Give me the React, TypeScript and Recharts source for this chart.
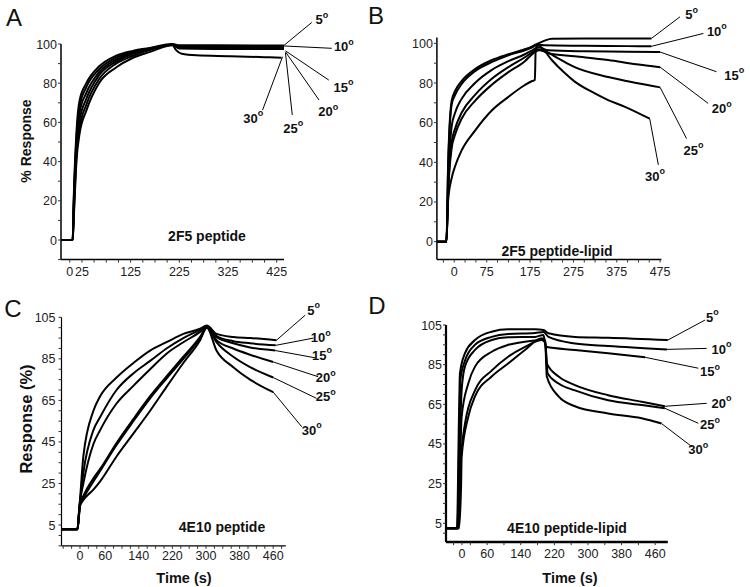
import React from 'react';
import { LineChart, Line, XAxis, YAxis, ReferenceLine, ReferenceDot } from 'recharts';

type Pt = [number, number];
type Seg = [number, number, number, number];

const DEG = ['5', '10', '15', '20', '25', '30'];
const FONT = '"Liberation Sans", Arial, Helvetica, sans-serif';

// ---------- Panel A : 2F5 peptide ----------
const A5: Pt[] = [[-18,0],[6,0],[8,20],[14,56],[20,71],[34,80],[60,88.5],[95,94],[130,96.5],[165,98],[211,100],[225,99.3],[300,99.3],[440,99.2]];
const A10: Pt[] = [[-18,0],[6,0],[8,18],[14,53],[20,68],[34,78],[60,87],[95,93],[130,96],[165,97.8],[211,99.8],[225,98.9],[300,98.8],[440,98.7]];
const A15: Pt[] = [[-18,0],[6,0],[8,16],[14,50],[20,65],[34,75],[60,85.5],[95,92],[130,95.5],[165,97.5],[211,99.7],[225,98.5],[300,98.3],[440,98.2]];
const A20: Pt[] = [[-18,0],[6,0],[8,14],[14,47],[20,61],[34,72],[60,84],[95,91],[130,95],[165,97.2],[211,99.6],[225,98.1],[300,97.9],[440,97.8]];
const A25: Pt[] = [[-18,0],[6,0],[8,12],[14,44],[20,57],[34,69],[60,82],[95,90],[130,94],[165,97],[211,99.5],[225,97.7],[300,97.5],[440,97.4]];
const A30: Pt[] = [[-18,0],[6,0],[8,10],[14,41],[20,54],[34,66],[60,80],[95,88],[130,93],[165,96],[211,99.4],[218,97],[230,95],[260,94.2],[330,93.8],[400,93.3],[435,93]];
const A_XMAJOR = [0, 25, 125, 225, 325, 425];
const A_YMAJOR = [0, 20, 40, 60, 80, 100];
const A_LEADERS: Seg[] = [[440,99.3,497,111],[440,99,538,97.8],[443,96.5,532,81.6],[443,96,512,71.4],[443,95.5,457,63.8],[437,93.5,396,66.3]];
const A_LABELS: Pt[] = [[518,112.5],[563,98.6],[562,78],[531,65.5],[459,57],[377,62]];

// ---------- Panel B : 2F5 peptide-lipid ----------
const B5: Pt[] = [[-40,0],[-18,0],[-14,40],[-6,71],[2,76],[17,81],[48,87],[86,91.5],[125,94.5],[163,97],[180,98.5],[194,100],[210,101.5],[225,102.3],[300,102.5],[400,102.5],[455,102.5]];
const B10: Pt[] = [[-40,0],[-18,0],[-14,38],[-6,69],[2,74],[17,79.5],[48,86],[86,90.5],[125,94],[163,96.5],[180,98],[194,99.3],[210,99],[300,98.8],[400,98.6],[455,98.5]];
const B15: Pt[] = [[-40,0],[-18,0],[-14,30],[-6,58],[2,65],[17,72],[48,80],[86,86.5],[125,91],[163,94.5],[180,96.5],[194,98],[217,96.5],[300,96],[400,95.8],[475,95.6]];
const B20: Pt[] = [[-40,0],[-18,0],[-14,26],[-6,50],[2,57],[17,65],[48,74],[86,82],[125,88],[163,93],[180,95.5],[194,97],[217,95],[278,93.5],[355,91.6],[420,89.5],[475,88]];
const B25: Pt[] = [[-40,0],[-18,0],[-14,25],[-6,47],[2,54],[17,62],[48,71],[86,79],[125,85.5],[163,91],[180,94.5],[195,96.5],[209,96],[240,92.4],[278,88],[355,83],[420,80],[475,77.8]];
const B30: Pt[] = [[-40,0],[-18,0],[-16,10],[-14,21],[-6,32],[2,38],[17,46],[48,56],[86,66],[125,73],[163,79],[180,81],[186,81.5],[188,97],[194,99],[201,98],[225,91.6],[255,85],[278,80.7],[317,75.6],[355,71.4],[394,68],[451,62]];
const B_XMAJOR = [0, 75, 175, 275, 375, 475];
const B_YMAJOR = [0, 20, 40, 60, 80, 100];
const B_LEADERS: Seg[] = [[455,102.5,521,113.4],[455,98.5,575,105],[475,95.6,605,85.7],[475,88,586,69.7],[475,77.8,536,52],[451,62,471,38.7]];
const B_LABELS: Pt[] = [[548,114.5],[606,106],[646,84],[617,67],[552,46],[463,33]];

// ---------- Panel C : 4E10 peptide ----------
const C5: Pt[] = [[-44,3],[-6,3],[-2,12],[0,17],[8,38],[32,60],[48,67],[87,76],[127,83],[167,89],[206,93],[246,97],[286,99.5],[302,101],[325,97],[365,95.5],[405,95],[468,94]];
const C10: Pt[] = [[-44,3],[-6,3],[-2,12],[0,16],[8,30],[32,50.7],[48,57],[87,70],[127,78],[167,84],[206,90],[246,95],[286,99],[302,100.8],[325,96],[365,93.5],[405,92.5],[466,91.5]];
const C15: Pt[] = [[-44,3],[-6,3],[-2,12],[0,16],[8,25],[32,44],[48,50.7],[87,63.5],[127,72],[167,80],[206,87.5],[246,93],[286,98],[302,100.6],[325,95.5],[365,92.5],[405,90.5],[465,89]];
const C20: Pt[] = [[-44,3],[-6,3],[-2,11],[0,15],[8,19],[32,27.5],[48,32],[87,44.5],[127,56],[167,67],[206,76.5],[246,86],[286,95.6],[302,100.4],[325,94],[365,90],[405,87],[460,83.5]];
const C25: Pt[] = [[-44,3],[-6,3],[-2,11],[0,15],[8,18],[32,26],[48,31],[87,43.5],[127,55],[167,66],[206,75.5],[246,85],[286,95],[302,100.3],[325,93],[365,86],[405,81],[460,76]];
const C30: Pt[] = [[-44,3],[-6,3],[-2,10],[0,14],[8,17],[32,22],[48,26],[87,38],[127,49],[167,60],[206,71.5],[246,83],[286,94],[302,100],[325,89],[365,81],[405,75],[460,69]];
const C_XMAJOR = [0, 60, 140, 220, 300, 380, 460];
const C_YMAJOR = [5, 25, 45, 65, 85, 105];
const C_LEADERS: Seg[] = [[468,94,536,106],[466,91.5,556,95],[465,89,560,85.5],[460,83.5,567,76.4],[460,76,563,66],[460,69,528,52.3]];
const C_LABELS: Pt[] = [[556,108.4],[573,95.2],[576,86.8],[585,76],[585,66.7],[552,50.7]];

// ---------- Panel D : 4E10 peptide-lipid ----------
const D5: Pt[] = [[-38,2.5],[-12,2.5],[-7,60],[-4.8,80.6],[7,90.7],[31,97.4],[70.6,101.6],[110,102.8],[174,102.8],[194,102.5],[206,100.8],[269,99],[348,98.6],[490,97.4]];
const D10: Pt[] = [[-38,2.5],[-11,2.5],[-6,55],[-4,77],[7,87],[31,95],[70.6,99],[110,100.5],[174,101],[194,101.5],[206,99],[269,95.7],[348,94.4],[488,92.7]];
const D15: Pt[] = [[-38,2.5],[-10,2.5],[-4,55],[-0.8,72],[7,84],[31,92.4],[70.6,97.4],[110,98.8],[174,99],[194,100],[200,94],[269,92.4],[348,90.7],[436,88.7]];
const D20: Pt[] = [[-38,2.5],[-9,2.5],[-4,40],[-0.8,58.7],[15,75.5],[31,84],[70.6,91.5],[110,95],[150,96.6],[190,97.4],[198,96],[202,85.6],[230,79],[269,74.7],[348,69.6],[428,66.3],[483,64]];
const D25: Pt[] = [[-38,2.5],[-8,2.5],[-3,35],[7,55],[31,72],[70.6,82],[110,89],[150,94],[190,97.4],[198,97],[204,80.6],[230,75.5],[269,72],[348,67],[428,64.6],[483,63]];
const D30: Pt[] = [[-38,2.5],[-7,2.5],[-2,25],[-0.8,38.5],[15,58.7],[31,69],[70.6,79],[110,85.6],[150,92.4],[190,98.3],[198,97],[202,79],[230,69],[269,64],[348,60.4],[428,58],[475,55.3]];
const D_XMAJOR = [0, 60, 140, 220, 300, 380, 460];
const D_YMAJOR = [5, 25, 45, 65, 85, 105];
const D_LEADERS: Seg[] = [[490,97.4,578.6,107.5],[488,92.7,582.5,93.2],[436,88.7,562.7,83.2],[483,64,582.5,65.5],[483,63,562.7,55.4],[475,55.3,547,43.7]];
const D_LABELS: Pt[] = [[596,109],[618,92.7],[590.5,81.5],[618,65.5],[590.5,54.6],[562.7,42]];

const range = (a: number, b: number, s: number) => {
  const out: number[] = [];
  for (let v = a; v <= b + 1e-9; v += s) out.push(Math.round(v * 100) / 100);
  return out;
};
const uniq = (xs: number[]) => Array.from(new Set(xs)).sort((p, q) => p - q);

const toRows = (pts: Pt[]) => pts.map(([t, v]) => ({ t, v }));

type Cfg = {
  left: number; top: number; height: number;
  margin: { top: number; right: number; bottom: number; left: number };
  series: Pt[][];
  xDomain: [number, number]; yDomain: [number, number];
  xMajor: number[]; xMinor: number[]; yMajor: number[]; yMinor: number[];
  xTickMargin: number; yTickMargin: number; axisW: number; xAxisW: number;
  leaders: Seg[]; labels: Pt[];
};

const makeTick = (majors: number[], horizontal: boolean) => (props: any) => {
  const { x, y, payload } = props;
  if (!majors.includes(payload.value)) return <g />;
  return (
    <text
      x={x}
      y={y}
      dy={horizontal ? '0.71em' : '0.36em'}
      textAnchor={horizontal ? 'middle' : 'end'}
      fontFamily={FONT}
      fontSize={12.5}
      fill="#222"
    >
      {payload.value}
    </text>
  );
};

const DegText = ({ cx, cy, n }: { cx: number; cy: number; n: string }) => (
  <text x={cx} y={cy} textAnchor="middle" dominantBaseline="central" fontFamily={FONT} fontWeight="bold" fontSize={13} fill="#111">
    {n}
    <tspan fontSize={9} dy={-5}>o</tspan>
  </text>
);

function Panel({ cfg }: { cfg: Cfg }) {
  return (
    <div style={{ position: 'absolute', left: cfg.left, top: cfg.top }}>
      <LineChart width={375} height={cfg.height} margin={cfg.margin}>
        <XAxis
          type="number"
          dataKey="t"
          domain={cfg.xDomain}
          ticks={uniq([...cfg.xMajor, ...cfg.xMinor])}
          interval={0}
          tick={makeTick(cfg.xMajor, true)}
          tickSize={3}
          tickMargin={cfg.xTickMargin}
          axisLine={{ stroke: '#000', strokeWidth: cfg.xAxisW }}
          tickLine={{ stroke: '#333', strokeWidth: 1 }}
          height={30}
        />
        <YAxis
          type="number"
          domain={cfg.yDomain}
          ticks={uniq([...cfg.yMajor, ...cfg.yMinor])}
          interval={0}
          tick={makeTick(cfg.yMajor, false)}
          tickSize={3}
          tickMargin={cfg.yTickMargin}
          axisLine={{ stroke: '#000', strokeWidth: cfg.axisW }}
          tickLine={{ stroke: '#333', strokeWidth: 1 }}
          width={40}
        />
        {cfg.series.map((s, i) => (
          <Line
            key={'s' + i}
            data={toRows(s)}
            dataKey="v"
            type="monotone"
            stroke="#000"
            strokeWidth={2}
            dot={false}
            activeDot={false}
            isAnimationActive={false}
          />
        ))}
        {cfg.leaders.map(([x1, y1, x2, y2], i) => (
          <ReferenceLine
            key={'l' + i}
            segment={[{ x: x1, y: y1 }, { x: x2, y: y2 }]}
            stroke="#000"
            strokeWidth={1}
            ifOverflow="visible"
          />
        ))}
        {cfg.labels.map(([x, y], i) => (
          <ReferenceDot
            key={'d' + i}
            x={x}
            y={y}
            r={0}
            ifOverflow="visible"
            shape={(p: any) => <DegText cx={p.cx} cy={p.cy} n={DEG[i]} />}
          />
        ))}
      </LineChart>
    </div>
  );
}

const panels: Cfg[] = [
  {
    left: 0, top: 0, height: 290,
    margin: { top: 44, right: 91, bottom: 0.4, left: 21 },
    series: [A5, A10, A15, A20, A25, A30],
    xDomain: [-18, 440], yDomain: [-10, 100],
    xMajor: A_XMAJOR, xMinor: range(0, 425, 25), yMajor: A_YMAJOR, yMinor: range(-10, 100, 10),
    xTickMargin: 5, yTickMargin: 1, axisW: 1.5, xAxisW: 1.5,
    leaders: A_LEADERS, labels: A_LABELS,
  },
  {
    left: 375, top: 0, height: 290,
    margin: { top: 37.4, right: 88.6, bottom: 0.5, left: 21.9 },
    series: [B5, B10, B15, B20, B25, B30],
    xDomain: [-40, 478], yDomain: [-9, 103],
    xMajor: B_XMAJOR, xMinor: range(-25, 475, 25), yMajor: B_YMAJOR, yMinor: range(0, 100, 10),
    xTickMargin: 5, yTickMargin: 1, axisW: 1.5, xAxisW: 1.5,
    leaders: B_LEADERS, labels: B_LABELS,
  },
  {
    left: 0, top: 290, height: 297,
    margin: { top: 27.3, right: 89.2, bottom: 11.2, left: 21.5 },
    series: [C5, C10, C15, C20, C25, C30],
    xDomain: [-44, 490], yDomain: [-5, 105],
    xMajor: C_XMAJOR, xMinor: range(-40, 480, 20), yMajor: C_YMAJOR, yMinor: range(-5, 105, 5),
    xTickMargin: 2, yTickMargin: 3, axisW: 1.2, xAxisW: 1.2,
    leaders: C_LEADERS, labels: C_LABELS,
  },
  {
    left: 375, top: 290, height: 297,
    margin: { top: 35, right: 82.2, bottom: 14.9, left: 31 },
    series: [D5, D10, D15, D20, D25, D30],
    xDomain: [-38, 490], yDomain: [-4.5, 105],
    xMajor: D_XMAJOR, xMinor: [-20, ...range(20, 460, 40)], yMajor: D_YMAJOR, yMinor: range(0, 105, 5),
    xTickMargin: 4, yTickMargin: 1, axisW: 2.2, xAxisW: 2.5,
    leaders: D_LEADERS, labels: D_LABELS,
  },
];

const PANEL_LETTERS: [string, number, number][] = [['A', 14, 17], ['B', 376, 15], ['C', 13, 308], ['D', 377, 305]];
const INNER_TITLES: [string, number, number][] = [
  ['2F5 peptide', 207, 236],
  ['2F5 peptide-lipid', 557, 251],
  ['4E10 peptide', 222, 527],
  ['4E10 peptide-lipid', 567, 528],
];

export default function App() {
  return (
    <div style={{ position: 'absolute', left: 0, top: 0, width: 750, height: 587, background: '#fff', overflow: 'hidden' }}>
      {panels.map((p, i) => (
        <Panel key={i} cfg={p} />
      ))}
      <svg width={750} height={587} style={{ position: 'absolute', left: 0, top: 0, pointerEvents: 'none' }}>
        {PANEL_LETTERS.map(([t, x, y]) => (
          <text key={t} x={x} y={y} textAnchor="middle" dominantBaseline="central" fontFamily={FONT} fontSize={24} fill="#111">
            {t}
          </text>
        ))}
        {INNER_TITLES.map(([t, x, y]) => (
          <text key={t} x={x} y={y} textAnchor="middle" dominantBaseline="central" fontFamily={FONT} fontWeight="bold" fontSize={14} fill="#111">
            {t}
          </text>
        ))}
        <text x={26} y={141} transform="rotate(-90 26 141)" textAnchor="middle" dominantBaseline="central" fontFamily={FONT} fontWeight="bold" fontSize={14} fill="#111">
          % Response
        </text>
        <text x={26} y={419} transform="rotate(-90 26 419)" textAnchor="middle" dominantBaseline="central" fontFamily={FONT} fontWeight="bold" fontSize={16.5} fill="#111">
          Response (%)
        </text>
        <text x={184} y={578} textAnchor="middle" dominantBaseline="central" fontFamily={FONT} fontWeight="bold" fontSize={14.5} fill="#111">
          Time (s)
        </text>
        <text x={570} y={578} textAnchor="middle" dominantBaseline="central" fontFamily={FONT} fontWeight="bold" fontSize={14.5} fill="#111">
          Time (s)
        </text>
      </svg>
    </div>
  );
}
